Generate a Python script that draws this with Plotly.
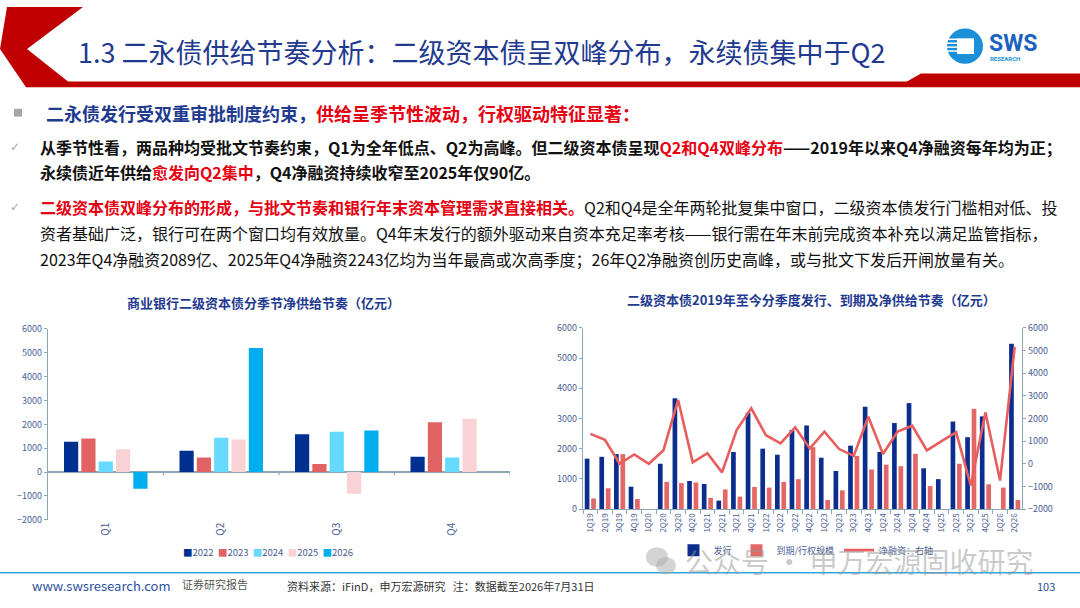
import plotly.graph_objects as go

# ---------------- data ----------------
quarters = ["Q1", "Q2", "Q3", "Q4"]
years = ["2022", "2023", "2024", "2025", "2026"]
net_2022 = [1270, 890, 1590, 640]
net_2023 = [1410, 610, 340, 2090]
net_2024 = [440, 1440, 1690, 610]
net_2025 = [960, 1370, -910, 2240]
net_2026 = [-700, 5200, 1740, None]
left_series = [net_2022, net_2023, net_2024, net_2025, net_2026]
left_colors = ["#00308F", "#E06262", "#66D9FF", "#F9D2D6", "#00AEEF"]

periods = ["1Q19", "2Q19", "3Q19", "4Q19", "1Q20", "2Q20", "3Q20", "4Q20",
           "1Q21", "2Q21", "3Q21", "4Q21", "1Q22", "2Q22", "3Q22", "4Q22",
           "1Q23", "2Q23", "3Q23", "4Q23", "1Q24", "2Q24", "3Q24", "4Q24",
           "1Q25", "2Q25", "3Q25", "4Q25", "1Q26", "2Q26"]
issuance = [1670, 1730, 1820, 740, 0, 1500, 3670, 930, 830, 280, 1890, 3190,
            2000, 1800, 2620, 2770, 1700, 1260, 2100, 3390, 1890, 2850, 3510, 1350,
            990, 2900, 2380, 3070, 0, 5480]
maturity = [350, 690, 1820, 330, 0, 900, 860, 880, 370, 650, 410, 730,
            710, 900, 990, 2050, 300, 620, 1760, 1310, 1470, 1420, 1830, 760,
            0, 1500, 3320, 820, 710, 300]
net_financing = [1320, 1060, 0, 410, 0, 600, 2820, 60, 470, -380, 1490, 2450,
                 1260, 900, 1610, 680, 1420, 650, 350, 2080, 430, 1420, 1680, 590,
                 1000, 1390, -960, 2270, -740, 5170]

left_ticks = [-2000, -1000, 0, 1000, 2000, 3000, 4000, 5000, 6000]
right_ticks_l = [0, 1000, 2000, 3000, 4000, 5000, 6000]
right_ticks_r = [-2000, -1000, 0, 1000, 2000, 3000, 4000, 5000, 6000]

# ---------------- helpers ----------------
W, H = 1080, 608
def px(x):
    return x / W
def py(y):
    return 1 - y / H

FONT = "Noto Sans CJK SC"
NAVY = "#1F3A8F"
TICK = "#4A5E96"
AX = "#8AA7B8"
RED = "#E60012"

fig = go.Figure()

# ---------------- left chart ----------------
for yr, vals, col in zip(years, left_series, left_colors):
    fig.add_trace(go.Bar(x=quarters, y=vals, name=yr, marker_color=col,
                         marker_line_width=0, xaxis="x", yaxis="y",
                         showlegend=False))

# ---------------- right chart ----------------
fig.add_trace(go.Bar(x=periods, y=issuance, name="发行", marker_color="#0B2D8E",
                     marker_line_width=0, xaxis="x2", yaxis="y2", legend="legend2",
                     offsetgroup="a", width=0.32, offset=-0.38))
fig.add_trace(go.Bar(x=periods, y=maturity, name="到期/行权规模", marker_color="#E46767",
                     marker_line_width=0, xaxis="x2", yaxis="y2", legend="legend2",
                     offsetgroup="b", width=0.32, offset=0.06))
fig.add_trace(go.Scatter(x=periods, y=net_financing, name="净融资：右轴", mode="lines",
                         line=dict(color="#E85E5E", width=2.6), xaxis="x2", yaxis="y3",
                         legend="legend2"))

tickfont = dict(family=FONT, size=9, color=TICK)

fig.update_layout(
    width=W, height=H, margin=dict(l=0, r=0, t=0, b=0),
    paper_bgcolor="white", plot_bgcolor="rgba(0,0,0,0)",
    font=dict(family=FONT, color="#000"),
    barmode="group", bargap=0.25, bargroupgap=0.18,
    xaxis=dict(domain=[px(48), px(510)], anchor="y", type="category",
               range=[-0.5, 3.5], showline=False, ticks="", tickangle=-90,
               tickfont=dict(family=FONT, size=10, color=TICK), showgrid=False,
               categoryorder="array", categoryarray=quarters),
    yaxis=dict(domain=[py(524), py(329)], anchor="x", range=[-2000, 6000],
               tickvals=left_ticks, showgrid=False, zeroline=True,
               zerolinecolor=AX, zerolinewidth=1.5, showline=True, linecolor=AX,
               linewidth=1.2, ticks="outside", ticklen=3, tickcolor=AX,
               tickfont=tickfont),
    xaxis2=dict(domain=[px(583), px(1022)], anchor="y2", type="category",
                range=[-0.5, 29.5], showline=True, linecolor=AX, linewidth=1.2,
                ticks="outside", tickson="boundaries", ticklen=4, tickcolor=AX,
                tickangle=-90, tickfont=dict(family=FONT, size=8, color=TICK),
                showgrid=False),
    yaxis2=dict(domain=[py(513), py(328)], anchor="x2", range=[0, 6000],
                tickvals=right_ticks_l, showgrid=False, zeroline=False,
                showline=True, linecolor=AX, linewidth=1.2, ticks="outside",
                ticklen=3, tickcolor=AX, tickfont=tickfont),
    yaxis3=dict(overlaying="y2", side="right", anchor="x2", range=[-2000, 6000],
                tickvals=right_ticks_r, showgrid=False, zeroline=False,
                showline=True, linecolor=AX, linewidth=1.2, ticks="outside",
                ticklen=3, tickcolor=AX, tickfont=tickfont),
    legend2=dict(orientation="h", x=px(806), xanchor="center", y=py(555),
                 yanchor="middle", font=dict(family=FONT, size=9, color=TICK),
                 itemwidth=30, bgcolor="rgba(0,0,0,0)"),
)

shapes = []
# header chevron + red bar
path = (f"M {px(7)},{py(0)} L {px(83)},{py(0)} L {px(27)},{py(43)} L {px(68)},{py(76)} "
        f"L {px(907)},{py(76)} L {px(921)},{py(68)} L {px(1080)},{py(68)} "
        f"L {px(1080)},{py(82)} L {px(26)},{py(82)} L {px(0)},{py(43)} Z")
shapes.append(dict(type="path", xref="paper", yref="paper", path=path,
                   fillcolor="#C00000", line=dict(width=0)))
# logo circle
shapes.append(dict(type="circle", xref="paper", yref="paper",
                   x0=px(947), x1=px(983), y0=py(58), y1=py(22),
                   fillcolor="#1B8FD8", line=dict(width=0)))
shapes.append(dict(type="rect", xref="paper", yref="paper",
                   x0=px(957), x1=px(974), y0=py(48), y1=py(32),
                   fillcolor="white", line=dict(width=0)))
for yy in [33, 37, 41, 45]:
    shapes.append(dict(type="line", xref="paper", yref="paper",
                       x0=px(947), x1=px(957), y0=py(yy), y1=py(yy),
                       line=dict(color="white", width=1.5)))
# bullet square
shapes.append(dict(type="rect", xref="paper", yref="paper",
                   x0=px(14), x1=px(22), y0=py(112), y1=py(104),
                   fillcolor="#A6A6A6", line=dict(width=0)))
# left chart category boundary ticks on zero line
for b in [0.5, 1.5, 2.5, 3.5]:
    shapes.append(dict(type="line", xref="x", yref="y", x0=b, x1=b, y0=0, y1=-130,
                       line=dict(color=AX, width=1.2)))
# footer line
shapes.append(dict(type="line", xref="paper", yref="paper", x0=0, x1=1,
                   y0=py(578), y1=py(578), line=dict(color="#2BA6DE", width=1.5)))
# wechat icon (watermark)
shapes.append(dict(type="circle", xref="paper", yref="paper",
                   x0=px(646), x1=px(668), y0=py(572), y1=py(552),
                   fillcolor="rgba(170,170,170,0.5)", line=dict(width=0)))
shapes.append(dict(type="circle", xref="paper", yref="paper",
                   x0=px(656), x1=px(676), y0=py(580), y1=py(562),
                   fillcolor="rgba(170,170,170,0.5)", line=dict(width=0)))
fig.update_layout(shapes=shapes)

ann = []
def text(x, y, s, size, color="#000", anchor="left", family=FONT, yanchor="middle"):
    ann.append(dict(xref="paper", yref="paper", x=px(x), y=py(y), text=s,
                    showarrow=False, xanchor=anchor, yanchor=yanchor,
                    font=dict(family=family, size=size, color=color)))

def red(s):
    return f"<span style='color:{RED}'>{s}</span>"

text(76, 45, "1.3 二永债供给节奏分析：二级资本债呈双峰分布，永续债集中于Q2", 27, NAVY)
text(987, 37, "<b>SWS</b>", 23, "#1B63BE", family="Roboto")
text(988, 53, "<b>RESEARCH</b>", 6, "#1B8FD8", family="Roboto")

text(44, 108, f"<b>二永债发行受双重审批制度约束，{red('供给呈季节性波动，行权驱动特征显著：')}</b>", 18, NAVY)
text(8, 143, "✓", 12, "#A8A8A8", family="DejaVu Sans")
text(38, 143, "<b>从季节性看，两品种均受批文节奏约束，Q1为全年低点、Q2为高峰。但二级资本债呈现"
     + red("Q2和Q4双峰分布") + "——2019年以来Q4净融资每年均为正；</b>", 16, "#111")
text(38, 169, "<b>永续债近年供给" + red("愈发向Q2集中") + "，Q4净融资持续收窄至2025年仅90亿。</b>", 16, "#111")
text(8, 204, "✓", 12, "#A8A8A8", family="DejaVu Sans")
text(38, 204, "<b>" + red("二级资本债双峰分布的形成，与批文节奏和银行年末资本管理需求直接相关。") + "</b>"
     + "Q2和Q4是全年两轮批复集中窗口，二级资本债发行门槛相对低、投", 16, "#111")
text(38, 231, "资者基础广泛，银行可在两个窗口均有效放量。Q4年末发行的额外驱动来自资本充足率考核——银行需在年末前完成资本补充以满足监管指标，", 16, "#111")
text(38, 258, "2023年Q4净融资2089亿、2025年Q4净融资2243亿均为当年最高或次高季度；26年Q2净融资创历史高峰，或与批文下发后开闸放量有关。", 16, "#111")

# chart titles
text(263, 302, "<b>商业银行二级资本债分季节净供给节奏（亿元）</b>", 13, NAVY, anchor="center")
text(811, 299, "<b>二级资本债2019年至今分季度发行、到期及净供给节奏（亿元）</b>", 13, NAVY, anchor="center")

# left chart legend (compact, as in the reference)
leg_items = "".join(
    f"<span style='color:{c}'>■</span>{y}  " for y, c in zip(years, left_colors))
text(268, 557, leg_items.strip(), 9.5, TICK, anchor="center")

# watermark
text(683, 566, "公众号 · 申万宏源固收研究", 28, "rgba(150,150,150,0.5)")

# footer
text(30, 591, "www.swsresearch.com", 13, "#2B4FA0")
text(180, 590, "证券研究报告", 11, "#555")
text(285, 592, "资料来源：iFinD，申万宏源研究   注：数据截至2026年7月31日", 11, "#333")
text(1057, 592, "103", 11, "#2B4FA0", anchor="right")

fig.update_layout(annotations=ann)

fig.write_html("out.html", config={"displayModeBar": False},
               post_script="document.body.style.margin='0';")
